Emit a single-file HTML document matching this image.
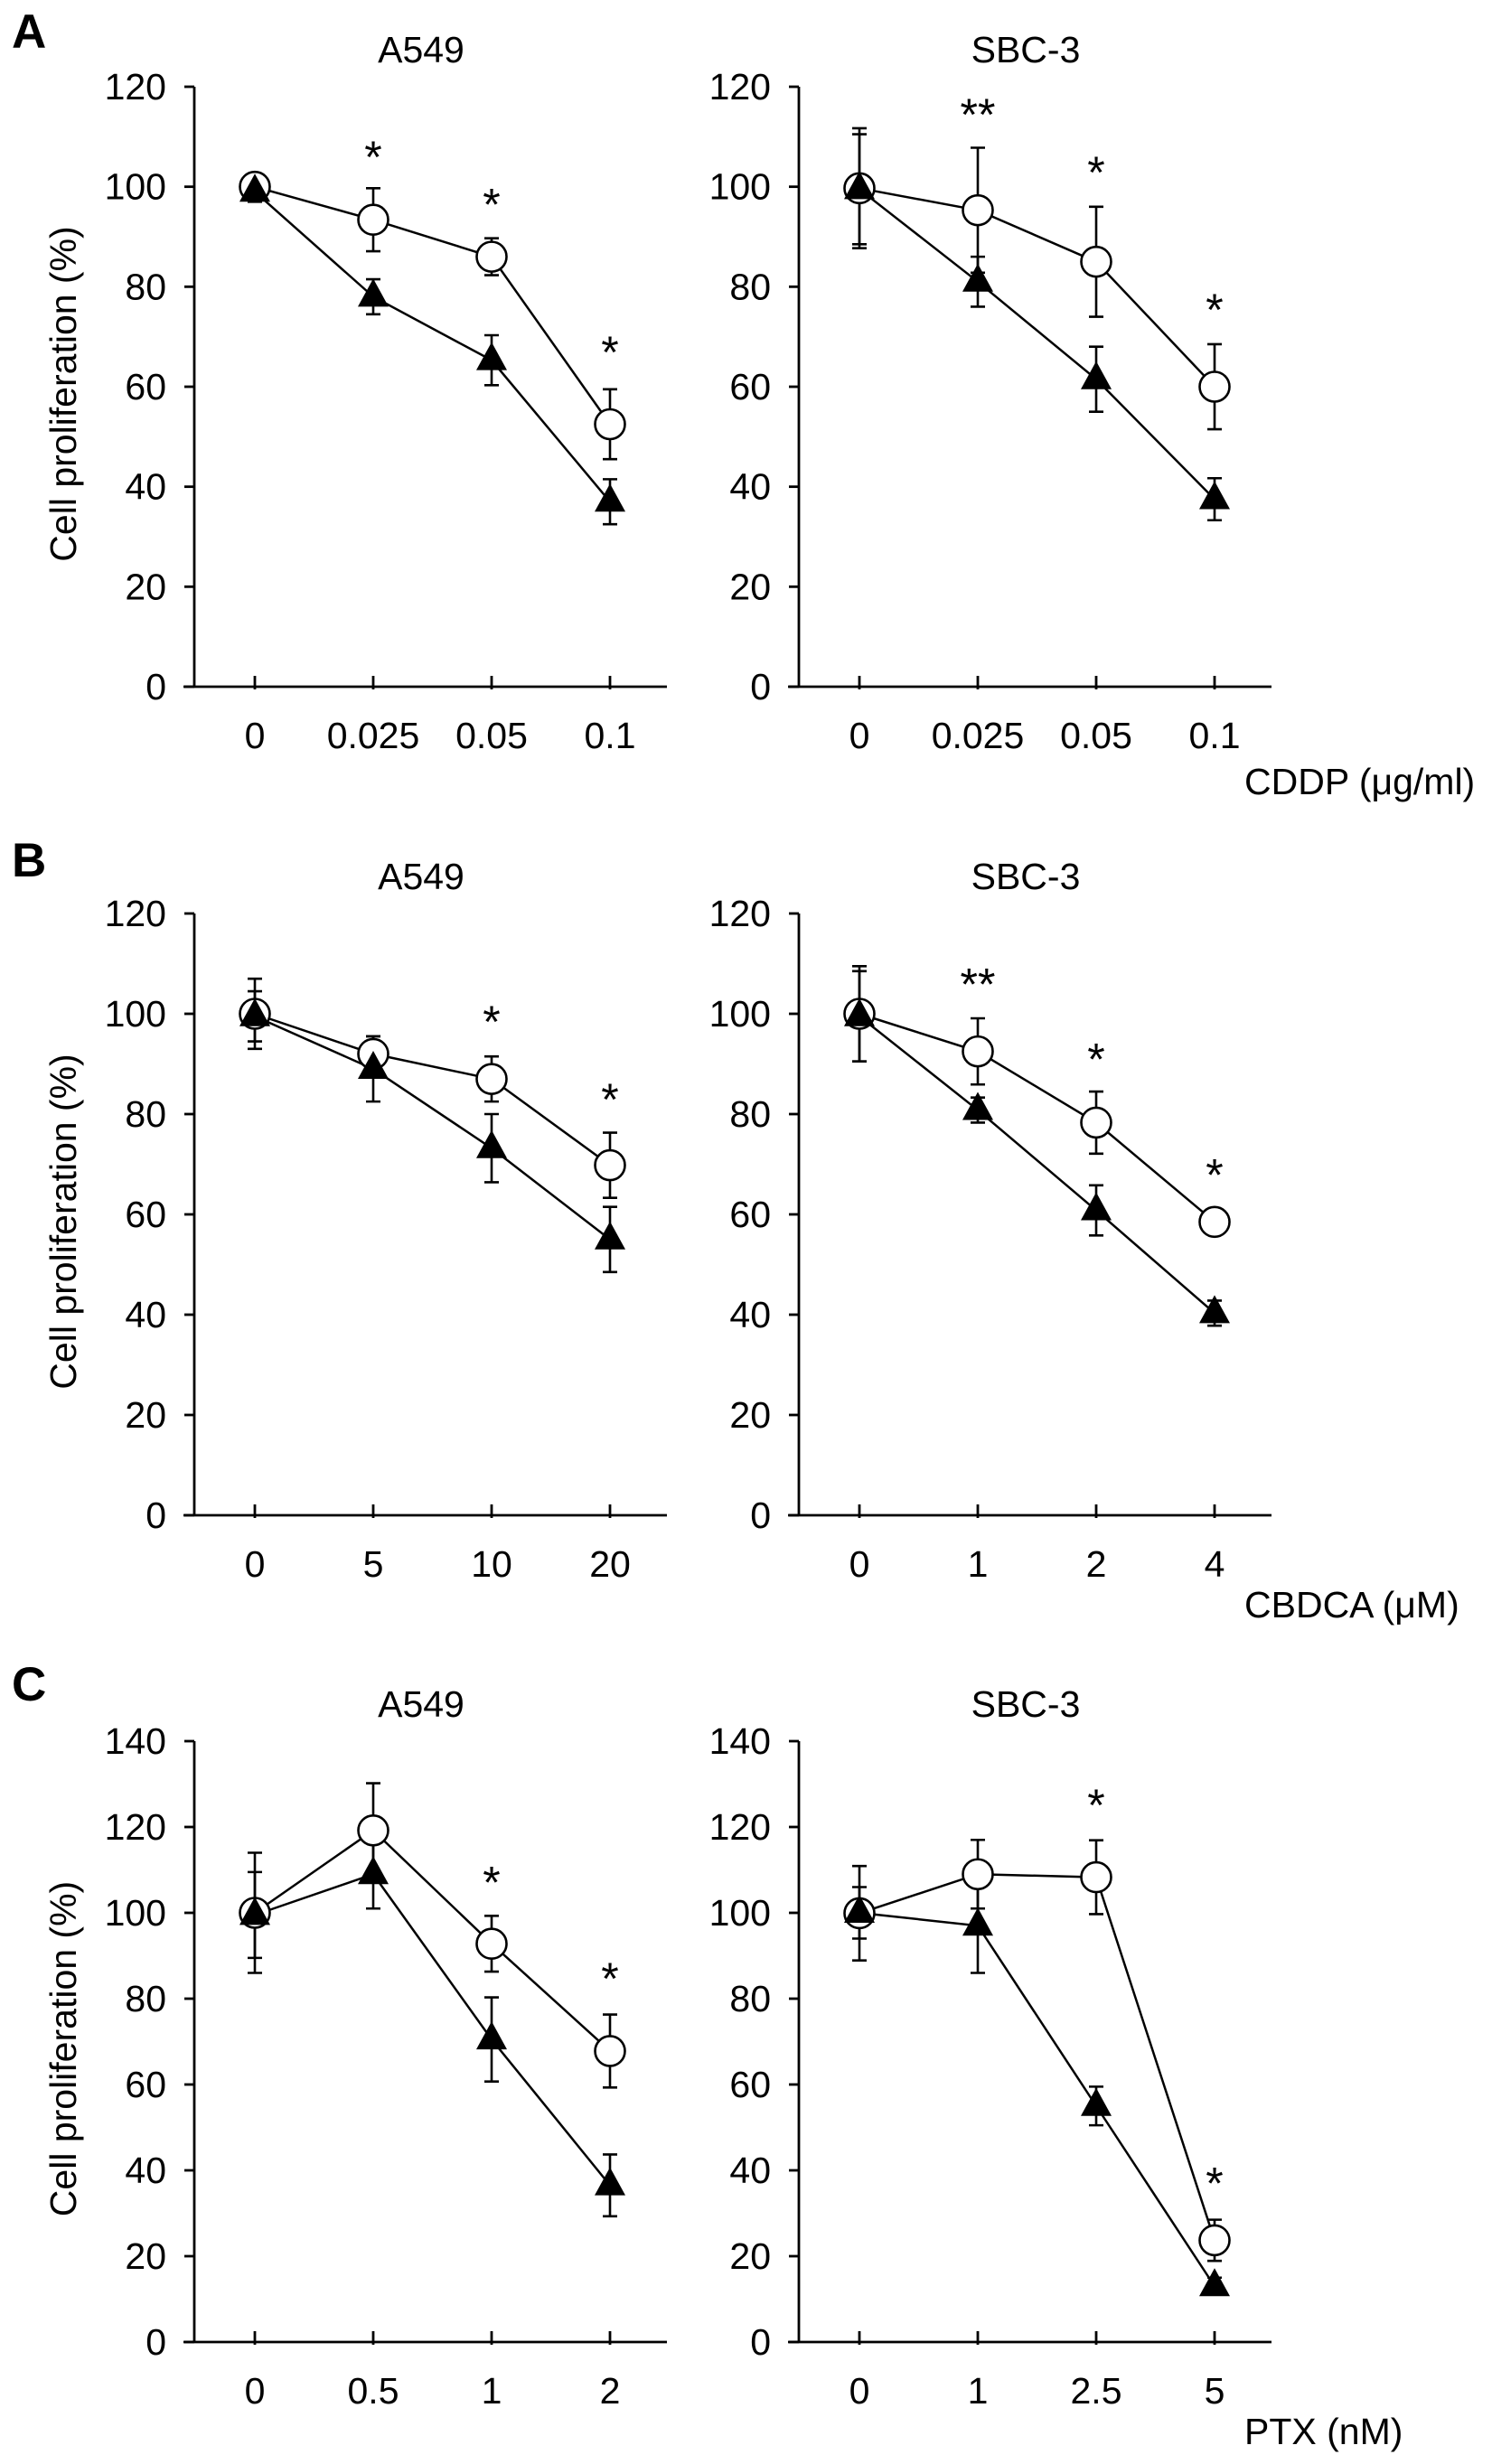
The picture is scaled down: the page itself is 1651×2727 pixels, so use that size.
<!DOCTYPE html>
<html><head><meta charset="utf-8"><style>
html,body{margin:0;padding:0;background:#fff;}
svg{display:block;font-family:"Liberation Sans",Arial,sans-serif;}
</style></head><body>
<svg id="fig" width="1651" height="2727" viewBox="0 0 1651 2727" xmlns="http://www.w3.org/2000/svg">
<rect width="1651" height="2727" fill="#fff"/>
<text x="13" y="53" font-size="53" font-weight="bold">A</text>
<text x="13" y="970" font-size="53" font-weight="bold">B</text>
<text x="13" y="1882" font-size="53" font-weight="bold">C</text>
<text x="1377" y="879" font-size="41">CDDP (μg/ml)</text>
<text x="1377" y="1790" font-size="41">CBDCA (μM)</text>
<text x="1377" y="2705" font-size="41">PTX (nM)</text>
</svg>
<script>
// Data arrays
const titles = ["A549","SBC-3","A549","SBC-3","A549","SBC-3"];
const catsA = ["0","0.025","0.05","0.1"];
const catsB1 = ["0","5","10","20"];
const catsB2 = ["0","1","2","4"];
const catsC1 = ["0","0.5","1","2"];
const catsC2 = ["0","1","2.5","5"];
const yTicks120 = [0,20,40,60,80,100,120];
const yTicks140 = [0,20,40,60,80,100,120,140];

const a1Circle = [100,93.4,86,52.5];   const a1CircleErr = [2.5,6.3,3.7,7];
const a1Tri = [99,78,65.3,37];          const a1TriErr = [2,3.5,5,4.5];
const a1Stars = ["","*","*","*"];       const a1StarY = [0,107.5,98,68.5];

const a2Circle = [99.7,95.3,85,60];     const a2CircleErr = [12,12.5,11,8.5];
const a2Tri = [99.5,81,61.5,37.5];      const a2TriErr = [11,5,6.5,4.2];
const a2Stars = ["","**","*","*"];      const a2StarY = [0,116,104.5,77];

const b1Circle = [100,92,87,69.8];      const b1CircleErr = [7,3.5,4.5,6.5];
const b1Tri = [99.5,89,73.2,55];        const b1TriErr = [5,6.5,6.8,6.5];
const b1Stars = ["","","*","*"];        const b1StarY = [0,0,100,84.5];

const b2Circle = [100,92.5,78.3,58.5];  const b2CircleErr = [9.5,6.6,6.2,2];
const b2Tri = [99.5,80.8,60.8,40.3];    const b2TriErr = [9,2.5,5,2.5];
const b2Stars = ["","**","*","*"];      const b2StarY = [0,107.5,92.5,69.5];

const c1Circle = [100,119.2,92.8,67.8]; const c1CircleErr = [14,11,6.5,8.5];
const c1Tri = [99.5,109,70.5,36.5];     const c1TriErr = [10,8,9.8,7.2];
const c1Stars = ["","","*","*"];        const c1StarY = [0,0,109,86.5];

const c2Circle = [99.9,109,108.3,23.7]; const c2CircleErr = [11,8,8.6,4.8];
const c2Tri = [100,97,55,13];           const c2TriErr = [6,11,4.5,2];
const c2Stars = ["","","*","*"];        const c2StarY = [0,0,127,38.8];

const panels = [
 {ax:215,y0:760,yTop:96,yMax:120,ticks:yTicks120,cats:catsA,ci:a1Circle,ce:a1CircleErr,tr:a1Tri,te:a1TriErr,st:a1Stars,sy:a1StarY,ty:55,name:"a-a549"},
 {ax:884,y0:760,yTop:96,yMax:120,ticks:yTicks120,cats:catsA,ci:a2Circle,ce:a2CircleErr,tr:a2Tri,te:a2TriErr,st:a2Stars,sy:a2StarY,ty:55,name:"a-sbc3"},
 {ax:215,y0:1677,yTop:1011,yMax:120,ticks:yTicks120,cats:catsB1,ci:b1Circle,ce:b1CircleErr,tr:b1Tri,te:b1TriErr,st:b1Stars,sy:b1StarY,ty:970,name:"b-a549"},
 {ax:884,y0:1677,yTop:1011,yMax:120,ticks:yTicks120,cats:catsB2,ci:b2Circle,ce:b2CircleErr,tr:b2Tri,te:b2TriErr,st:b2Stars,sy:b2StarY,ty:970,name:"b-sbc3"},
 {ax:215,y0:2592,yTop:1927,yMax:140,ticks:yTicks140,cats:catsC1,ci:c1Circle,ce:c1CircleErr,tr:c1Tri,te:c1TriErr,st:c1Stars,sy:c1StarY,ty:1886,name:"c-a549"},
 {ax:884,y0:2592,yTop:1927,yMax:140,ticks:yTicks140,cats:catsC2,ci:c2Circle,ce:c2CircleErr,tr:c2Tri,te:c2TriErr,st:c2Stars,sy:c2StarY,ty:1886,name:"c-sbc3"}
];

const NS="http://www.w3.org/2000/svg";
const svg=document.getElementById('fig');
function mk(tag,attrs,parent){const e=document.createElementNS(NS,tag);for(const k in attrs)e.setAttribute(k,attrs[k]);(parent||svg).appendChild(e);return e;}

panels.forEach((p,pi)=>{
  const g=mk('g',{});
  
  
  const yS=v=>p.y0-(v/p.yMax)*(p.y0-p.yTop);
  const xS=i=>p.ax+67+i*131;
  const t=mk('text',{x:p.ax+251,y:p.ty+14,'font-size':41,'text-anchor':'middle'},g);
  t.textContent=titles[pi];
  
  
  const ya=mk('line',{x1:p.ax,y1:p.yTop,x2:p.ax,y2:p.y0,stroke:'#000','stroke-width':2.8},g);
  
  
  const xa=mk('line',{x1:p.ax-12,y1:p.y0,x2:p.ax+523,y2:p.y0,stroke:'#000','stroke-width':2.8},g);
  
  
  p.ticks.forEach(v=>{
    mk('line',{x1:p.ax-11,y1:yS(v),x2:p.ax,y2:yS(v),stroke:'#000','stroke-width':2.8},g);
    const l=mk('text',{x:p.ax-31,y:yS(v)+14,'font-size':41,'text-anchor':'end'},g);
    l.textContent=v;
    
    
  });
  p.cats.forEach((c,i)=>{
    mk('line',{x1:xS(i),y1:p.y0-12,x2:xS(i),y2:p.y0+3,stroke:'#000','stroke-width':2.8},g);
    const l=mk('text',{x:xS(i),y:p.y0+68,'font-size':41,'text-anchor':'middle'},g);
    l.textContent=c;
    
    
  });
  if(pi%2===0){
    const cy=(p.y0+p.yTop)/2;
    const yt=mk('text',{x:0,y:0,'font-size':41,'text-anchor':'middle',transform:'translate(84,'+(cy+8)+') rotate(-90)'},g);
    yt.textContent='Cell proliferation (%)';
    
    
  }
  function err(vals,errs,name){
    vals.forEach((v,i)=>{
      const e=mk('path',{d:`M${xS(i)} ${yS(v+errs[i])}V${yS(v-errs[i])}M${xS(i)-8} ${yS(v+errs[i])}h16M${xS(i)-8} ${yS(v-errs[i])}h16`,stroke:'#000','stroke-width':2.6,fill:'none'},g);
      
      
    });
  }
  err(p.tr,p.te,'triangle-error-bar');
  err(p.ci,p.ce,'circle-error-bar');
  const l1=mk('polyline',{points:p.tr.map((v,i)=>xS(i)+','+yS(v)).join(' '),fill:'none',stroke:'#000','stroke-width':2.5},g);
  
  
  const l2=mk('polyline',{points:p.ci.map((v,i)=>xS(i)+','+yS(v)).join(' '),fill:'none',stroke:'#000','stroke-width':2.5},g);
  
  
  p.ci.forEach((v,i)=>{
    const c=mk('circle',{cx:xS(i),cy:yS(v),r:16.5,fill:'#fff',stroke:'#000','stroke-width':2.6},g);
    
    
  });
  p.tr.forEach((v,i)=>{
    const x=xS(i),y=yS(v);
    const tri=mk('path',{d:`M${x} ${y-20}L${x+17} ${y+11}L${x-17} ${y+11}Z`,fill:'#000'},g);
    
    
  });
  p.st.forEach((s,i)=>{
    if(!s)return;
    const st=mk('text',{x:xS(i),y:yS(p.sy[i])+26,'font-size':50,'text-anchor':'middle'},g);
    st.textContent=s;
    
    
  });
});
</script>
</body></html>
